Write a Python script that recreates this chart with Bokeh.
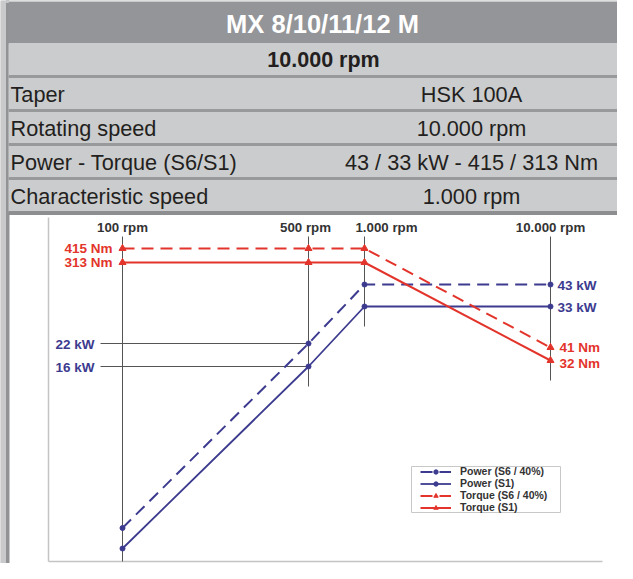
import numpy as np
from bokeh.plotting import figure
from bokeh.models import Range1d, Legend, LegendItem
from bokeh.core.properties import value
from bokeh.embed import file_html
from bokeh.resources import INLINE

# ---------------- data ----------------
TITLE = "MX 8/10/11/12 M"
SUBTITLE = "10.000 rpm"
SPEC_LABELS = ["Taper", "Rotating speed", "Power - Torque (S6/S1)", "Characteristic speed"]
SPEC_VALUES = ["HSK 100A", "10.000 rpm", "43 / 33 kW - 415 / 313 Nm", "1.000 rpm"]

RPM = [100, 500, 1000, 10000]
RPM_LABELS = ["100 rpm", "500 rpm", "1.000 rpm", "10.000 rpm"]
POWER_S6 = [4.3, 22, 43, 43]
POWER_S1 = [3.3, 16, 33, 33]
TORQUE_S6 = [415, 415, 415, 41]
TORQUE_S1 = [313, 313, 313, 32]
SERIES_NAMES = ["Power (S6 / 40%)", "Power (S1)", "Torque (S6 / 40%)", "Torque (S1)"]

# ---------------- schematic axis layout (frame pixels) ----------------
X_TICK_POS = [122, 308, 364, 550]
KW_SCALE_VAL = [3.3, 4.3, 16, 22, 33, 43]
KW_SCALE_POS = [548, 527.5, 366, 343, 306, 284]
NM_SCALE_VAL = [32, 41, 313, 415]
NM_SCALE_POS = [360, 347, 262, 248]


def xs(r):
    return list(np.interp(np.log10(r), np.log10(RPM), X_TICK_POS))


def ykw(v):
    return list(np.interp(v, KW_SCALE_VAL, KW_SCALE_POS))


def ynm(v):
    return list(np.interp(v, NM_SCALE_VAL, NM_SCALE_POS))


# ---------------- styles ----------------
W, H = 617, 563
RED = "#e3342b"
BLUE = "#3c3b8f"
DARK = "#231f20"
SANS = "'Liberation Sans', Arial, sans-serif"

p = figure(width=W, height=H, x_range=Range1d(0, W), y_range=Range1d(H, 0),
           output_backend="svg", toolbar_location=None, min_border=0,
           x_axis_location=None, y_axis_location=None, outline_line_color=None,
           background_fill_color="white", border_fill_color="white")
p.grid.visible = False

# ---------------- table ----------------
p.quad(left=0, right=6, top=0, bottom=H, color="#c9cacc")
p.quad(left=6, right=8.5, top=0, bottom=H, color="#929395")
p.quad(left=6, right=W, top=0, bottom=2, color="#c9cacc")
p.quad(left=8.5, right=W, top=2, bottom=43, color="#939598")
p.quad(left=8.5, right=W, top=43, bottom=211, color="#cbcccd")
row_tops = [43 + 34 * i for i in range(5)]
p.quad(left=8.5, right=W, top=[t + 32 for t in row_tops[:4]],
       bottom=[t + 34 for t in row_tops[:4]], color="#98999b")
p.quad(left=8.5, right=W, top=211, bottom=214, color="#8d8e90")

p.text(x=[322], y=[23], text=[TITLE], text_font=value(SANS),
       text_font_style="bold", text_font_size="25.5px", text_color="white",
       text_align="center", text_baseline="middle")
p.text(x=[323], y=[row_tops[0] + 16.5], text=[SUBTITLE], text_font=value(SANS),
       text_font_style="bold", text_font_size="21.5px", text_color=DARK,
       text_align="center", text_baseline="middle")
spec_y = [t + 16.5 for t in row_tops[1:]]
p.text(x=[10] * 4, y=spec_y, text=SPEC_LABELS, text_font=value(SANS),
       text_font_size="21.7px", text_color=DARK, text_align="left", text_baseline="middle")
p.text(x=[471] * 4, y=spec_y, text=SPEC_VALUES, text_font=value(SANS),
       text_font_size="21.7px", text_color=DARK, text_align="center", text_baseline="middle")

# ---------------- chart frame ----------------
p.line([48, 48], [217, 561], line_color="#c4c4c4", line_width=1.5)
p.line([48, 602], [561, 561], line_color="#c4c4c4", line_width=1.5)

# vertical rpm guides
xr = xs(RPM)
low = [max(a, b) for a, b in zip(ykw(POWER_S1), ynm(TORQUE_S1))]
p.segment(x0=xr, x1=xr, y0=[236] * 4, y1=[min(v + 20, 561) for v in low],
          line_color="#555555", line_width=1)
p.text(x=[xr[0], xr[1] - 3, xr[2] + 22, xr[3]], y=[227] * 4, text=RPM_LABELS,
       text_font=value(SANS), text_font_style="bold", text_font_size="13.3px",
       text_color="#333333", text_align="center", text_baseline="middle")

# horizontal guides at 500 rpm power
kw_mid = [POWER_S6[1], POWER_S1[1]]
p.segment(x0=[100] * 2, x1=[xr[1]] * 2, y0=ykw(kw_mid), y1=ykw(kw_mid),
          line_color="#555555", line_width=1)
p.text(x=[94] * 2, y=[v + 1 for v in ykw(kw_mid)], text=[f"{v:g} kW" for v in kw_mid],
       text_font=value(SANS), text_font_style="bold", text_font_size="13.5px",
       text_color=BLUE, text_align="right", text_baseline="middle")

# value labels
nm_start = [TORQUE_S6[0], TORQUE_S1[0]]
p.text(x=[112] * 2, y=ynm(nm_start), text=[f"{v:g} Nm" for v in nm_start],
       text_font=value(SANS), text_font_style="bold", text_font_size="13.5px",
       text_color=RED, text_align="right", text_baseline="middle")
kw_end = [POWER_S6[-1], POWER_S1[-1]]
p.text(x=[557] * 2, y=[v + 1 for v in ykw(kw_end)], text=[f"{v:g} kW" for v in kw_end],
       text_font=value(SANS), text_font_style="bold", text_font_size="13.5px",
       text_color=BLUE, text_align="left", text_baseline="middle")
nm_end = [TORQUE_S6[-1], TORQUE_S1[-1]]
p.text(x=[559] * 2, y=[ynm(nm_end)[0], ynm(nm_end)[1] + 3], text=[f"{v:g} Nm" for v in nm_end],
       text_font=value(SANS), text_font_style="bold", text_font_size="13.5px",
       text_color=RED, text_align="left", text_baseline="middle")

# ---------------- series ----------------
DASH = "12 7"
r1l = p.line(xr, ykw(POWER_S6), line_color=BLUE, line_width=2, line_dash=DASH)
r1m = p.scatter(xr, ykw(POWER_S6), marker="circle", size=5, color=BLUE)
r2l = p.line(xr, ykw(POWER_S1), line_color=BLUE, line_width=1.8)
r2m = p.scatter(xr, ykw(POWER_S1), marker="circle", size=5, color=BLUE)
r3l = p.line(xr, ynm(TORQUE_S6), line_color=RED, line_width=2, line_dash=DASH)
r3m = p.scatter(xr, ynm(TORQUE_S6), marker="triangle", size=7, color=RED)
r4l = p.line(xr, ynm(TORQUE_S1), line_color=RED, line_width=2)
r4m = p.scatter(xr, ynm(TORQUE_S1), marker="triangle", size=7, color=RED)

# legend frame + legend
p.quad(left=411, right=560, top=466, bottom=512, fill_color="white",
       line_color="#c8c8c8", line_width=1)
legend = Legend(items=[
    LegendItem(label=SERIES_NAMES[0], renderers=[r1l, r1m]),
    LegendItem(label=SERIES_NAMES[1], renderers=[r2l, r2m]),
    LegendItem(label=SERIES_NAMES[2], renderers=[r3l, r3m]),
    LegendItem(label=SERIES_NAMES[3], renderers=[r4l, r4m]),
], location=(420, H - 513),
    glyph_width=31, glyph_height=11, label_height=11, label_standoff=9,
    spacing=0, padding=2, margin=0,
    label_text_font=SANS, label_text_font_style="bold", label_text_font_size="10.5px",
    label_text_color="#333333", border_line_color=None,
    background_fill_alpha=0)
p.add_layout(legend)

open("out.html", "w").write(file_html(p, INLINE))
